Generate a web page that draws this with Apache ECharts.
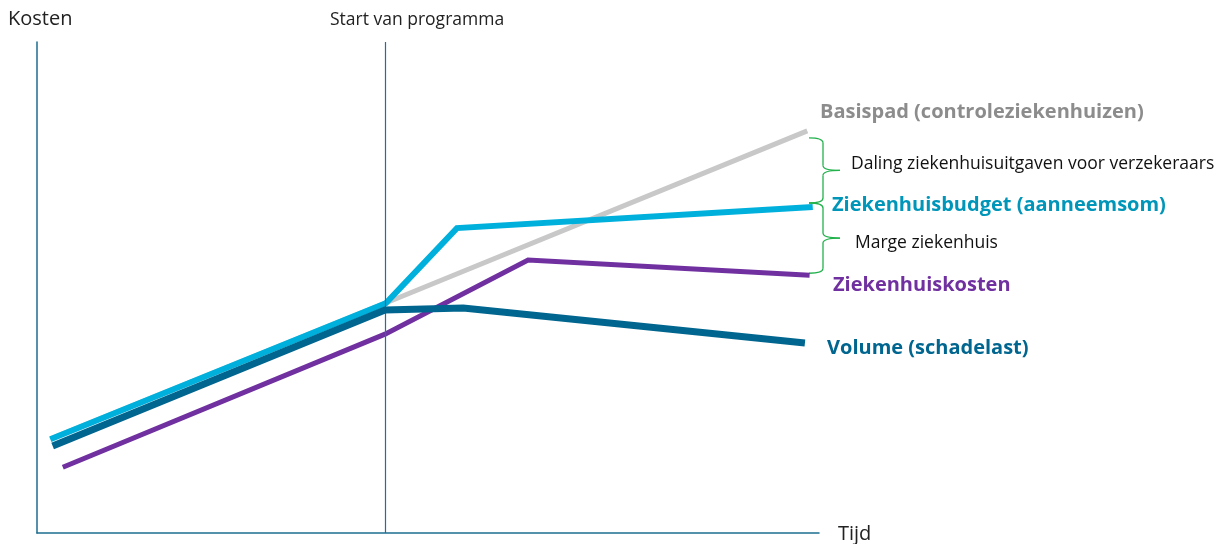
<!DOCTYPE html>
<html>
<head>
<meta charset="utf-8">
<script src="https://cdn.jsdelivr.net/npm/echarts@6/dist/echarts.min.js"></script>
<style>html,body{margin:0;padding:0;background:#fff}#c{width:1227px;height:544px}</style>
</head>
<body>
<div id="c"></div>
<script>
// Data (time on x, cost on y, arbitrary units 0-100)
const startProgramma = 44.5;
const basispad = [[1.9, 19.3], [44.5, 46.8], [98.5, 81.9]];
const budget = [[1.7, 19.1], [44.6, 46.8], [53.7, 62.1], [99.2, 66.4]];
const volume = [[2.0, 17.7], [44.5, 45.4], [54.5, 45.8], [98.2, 38.7]];
const kosten = [[3.3, 13.4], [44.5, 40.5], [62.8, 55.6], [98.8, 52.5]];
const seriesNames = ['Basispad (controleziekenhuizen)', 'Ziekenhuisbudget (aanneemsom)', 'Ziekenhuiskosten', 'Volume (schadelast)'];
const braceLabels = ['Daling ziekenhuisuitgaven voor verzekeraars', 'Marge ziekenhuis'];

const FONT = '"Open Sans", Lato, sans-serif';
const axisColor = '#1d6d8f';
const chart = echarts.init(document.getElementById('c'), null, {renderer: 'canvas'});

function lineSeries(name, data, color, width, z) {
  return {
    name, type: 'line', data, symbol: 'none', z,
    lineStyle: {color, width, join: 'miter', cap: 'butt'},
    animation: false
  };
}

const option = {
  animation: false,
  grid: {left: 37, right: 408, top: 42, bottom: 11},
  xAxis: {
    type: 'value', min: 0, max: 100,
    axisLine: {show: true, lineStyle: {color: axisColor, width: 1.5}},
    axisTick: {show: false}, axisLabel: {show: false}, splitLine: {show: false}
  },
  yAxis: {
    type: 'value', min: 0, max: 100,
    axisLine: {show: true, lineStyle: {color: axisColor, width: 1.5}},
    axisTick: {show: false}, axisLabel: {show: false}, splitLine: {show: false}
  },
  series: [
    Object.assign(lineSeries(seriesNames[0], basispad, '#c8c8c8', 5, 2), {
      markLine: {
        silent: true, symbol: 'none', animation: false,
        lineStyle: {color: '#1f6fa0', width: 1.2, type: 'solid'},
        label: {show: false},
        data: [[{coord: [startProgramma, 0]}, {coord: [startProgramma, 100]}]]
      }
    }),
    lineSeries(seriesNames[2], kosten, '#7030a0', 5, 3),
    lineSeries(seriesNames[1], budget, '#00b0dc', 6, 4),
    lineSeries(seriesNames[3], volume, '#00668f', 7, 5)
  ]
};
chart.setOption(option);

const p = (pt) => chart.convertToPixel({gridIndex: 0}, pt);
const gEnd = p(basispad[basispad.length - 1]);
const bEnd = p(budget[budget.length - 1]);
const kEnd = p(kosten[kosten.length - 1]);

const braceStyle = {fill: 'none', stroke: '#22b14c', lineWidth: 1.3};
function brace(x, y1, y2, tip) {
  const ym = (y1 + y2) / 2;
  const r = 5, hook = 14;
  const q = (x1, y1_, cx, cy, x2, y2_) => ({type: 'bezierCurve', shape: {x1, y1: y1_, cpx1: cx, cpy1: cy, x2, y2: y2_}, style: braceStyle});
  const l = (x1, y1_, x2, y2_) => ({type: 'line', shape: {x1, y1: y1_, x2, y2: y2_}, style: braceStyle});
  return [
    q(x - hook, y1, x, y1, x, y1 + r),
    l(x, y1 + r, x, ym - r),
    q(x, ym - r, x, ym, x + tip, ym),
    q(x + tip, ym, x, ym, x, ym + r),
    l(x, ym + r, x, y2 - r),
    q(x, y2 - r, x, y2, x - hook, y2)
  ];
}

const braceX = 823;
const txt = (x, y, text, font, fill) => ({type: 'text', x, y, style: {text, font, fill, textVerticalAlign: 'middle', verticalAlign: 'middle'}});
chart.setOption({
  graphic: [
    txt(8, 19, 'Kosten', '20px ' + FONT, '#222'),
    txt(330, 20, 'Start van programma', '17.5px ' + FONT, '#222'),
    txt(838, 534, 'Tijd', '20px ' + FONT, '#222'),
    txt(820, 112, seriesNames[0], 'bold 20px ' + FONT, '#8c8c8c'),
    txt(832, 205, seriesNames[1], 'bold 20px ' + FONT, '#0096b9'),
    txt(833, 285, seriesNames[2], 'bold 20px ' + FONT, '#7030a0'),
    txt(827, 348, seriesNames[3], 'bold 20px ' + FONT, '#00668f'),
    txt(851, 164, braceLabels[0], '17.5px ' + FONT, '#111'),
    txt(855, 243, braceLabels[1], '17.5px ' + FONT, '#111')
  ].concat(brace(braceX, gEnd[1] + 7, bEnd[1] - 4, 17), brace(braceX, bEnd[1] - 4, kEnd[1] - 2, 17))
});
</script>
</body>
</html>
